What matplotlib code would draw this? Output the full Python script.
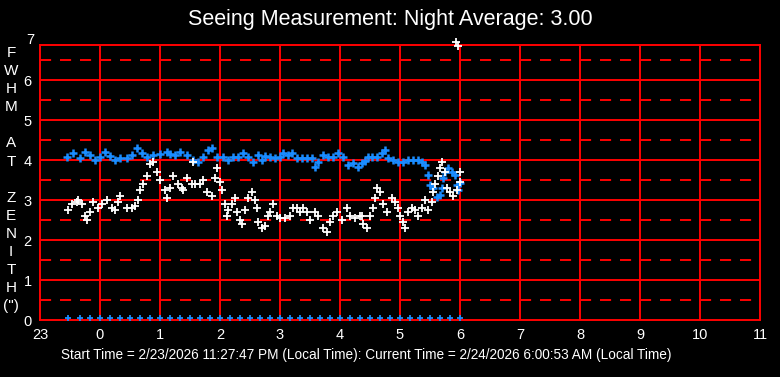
import matplotlib
matplotlib.use("Agg")
import matplotlib.pyplot as plt

plt.rcParams['font.family'] = ['Liberation Sans', 'DejaVu Sans']
plt.rcParams['lines.scale_dashes'] = False

# time is minutes after 23:00 local time
white_min = [28, 32, 37, 38, 42, 45, 47, 50, 53, 58, 62, 67, 72, 75, 78, 80, 87, 92, 95, 98,
             100, 103, 107, 110, 113, 117, 120, 125, 127, 130, 133, 138, 142, 143, 147, 152,
             153, 155, 160, 163, 167, 172, 175, 177, 180, 182, 185, 187, 188, 192, 195, 197,
             200, 202, 205, 208, 212, 215, 217, 218, 222, 225, 228, 230, 233, 237, 240, 245,
             250, 253, 257, 260, 263, 267, 270, 275, 278, 283, 287, 290, 293, 297, 302, 307,
             310, 315, 320, 322, 323, 327, 330, 333, 335, 337, 340, 343, 347, 352, 355, 358,
             360, 363, 365, 368, 372, 375, 378, 382, 385, 388, 392, 393, 395, 398, 400, 402,
             405, 407, 410, 413, 417, 420, 420, 416, 418]
white_val = [2.75, 2.9, 2.95, 3.0, 2.9, 2.6, 2.5, 2.7, 2.95, 2.8, 2.9, 3.0, 2.8, 2.75, 2.95, 3.1,
             2.8, 2.8, 2.85, 3.0, 3.25, 3.4, 3.6, 3.9, 3.95, 3.7, 3.5, 3.25, 3.05, 3.3, 3.6, 3.4,
             3.3, 3.25, 3.55, 3.4, 3.95, 3.4, 3.4, 3.5, 3.2, 3.1, 3.55, 3.8, 3.45, 3.25, 2.9,
             2.6, 2.75, 2.9, 3.05, 2.7, 2.5, 2.4, 2.75, 3.05, 3.2, 3.0, 2.8, 2.45, 2.3, 2.35,
             2.6, 2.7, 2.9, 2.6, 2.55, 2.55, 2.6, 2.8, 2.8, 2.7, 2.8, 2.7, 2.5, 2.7, 2.6, 2.3,
             2.2, 2.45, 2.6, 2.7, 2.5, 2.8, 2.6, 2.55, 2.6, 2.6, 2.4, 2.3, 2.6, 2.8, 3.05, 3.3,
             3.2, 2.9, 2.7, 3.05, 2.95, 2.8, 2.6, 2.45, 2.3, 2.7, 2.8, 2.75, 2.6, 2.8, 3.0,
             2.75, 2.95, 3.2, 3.4, 3.6, 3.8, 3.95, 3.7, 3.3, 3.2, 3.1, 3.25, 3.7, 3.45, 6.95, 6.85]

blue_min = [27, 33, 40, 45, 50, 55, 60, 65, 70, 75, 80, 87, 92, 97, 102, 107, 113, 120, 127,
            130, 135, 140, 147, 153, 158, 163, 168, 172, 177, 183, 188, 193, 198, 203, 208,
            213, 218, 222, 225, 230, 235, 240, 243, 248, 252, 257, 262, 267, 272, 275, 278,
            283, 288, 293, 298, 303, 308, 313, 318, 322, 325, 328, 332, 337, 342, 345, 348,
            353, 358, 363, 368, 373, 378, 382, 385, 388, 390, 393, 397, 400, 402, 403, 405,
            408, 412, 415, 417, 418, 420]
blue_val = [4.08, 4.17, 4.05, 4.2, 4.12, 4.0, 4.07, 4.2, 4.1, 4.0, 4.05, 4.05, 4.12, 4.3, 4.17,
            4.08, 4.12, 4.15, 4.2, 4.15, 4.12, 4.2, 4.12, 4.0, 3.95, 4.07, 4.25, 4.3, 4.07,
            4.07, 4.0, 4.07, 4.07, 4.17, 4.07, 3.95, 4.12, 4.0, 4.1, 4.07, 4.05, 4.07, 4.17,
            4.12, 4.17, 4.05, 4.05, 4.05, 4.05, 3.83, 3.95, 4.12, 4.07, 4.07, 4.17, 4.07, 3.88,
            3.92, 3.83, 3.92, 3.98, 4.07, 4.07, 4.07, 4.17, 4.25, 4.05, 4.0, 3.95, 3.95, 4.0,
            4.0, 4.0, 3.95, 3.88, 3.62, 3.38, 3.3, 3.08, 3.12, 3.3, 3.55, 3.7, 3.8, 3.7, 3.62,
            3.38, 3.25, 3.42]

base_min = [28, 40, 50, 60, 70, 80, 90, 100, 110, 120, 130, 140, 150, 160, 170, 180, 190, 200,
            210, 220, 230, 240, 250, 260, 270, 280, 290, 300, 310, 320, 330, 340, 350, 360,
            370, 380, 390, 400, 410, 420]
base_level = 0.05

hour_labels = ['23', '0', '1', '2', '3', '4', '5', '6', '7', '8', '9', '10', '11']
ylabel_chars = ['F', 'W', 'H', 'M', '', 'A', 'T', '', 'Z', 'E', 'N', 'I', 'T', 'H', '(")']

title = 'Seeing Measurement: Night Average: 3.00'
footer = ('Start Time = 2/23/2026 11:27:47 PM (Local Time): '
          'Current Time = 2/24/2026 6:00:53 AM (Local Time)')

red = '#ff0000'
blue = '#1a8cff'

W, H = 780, 377
fig = plt.figure(figsize=(W / 100, H / 100), dpi=100, facecolor='black')
ax = fig.add_axes([40 / W, 57 / H, 720 / W, 275 / H], facecolor='black')
ax.set_xlim(0, 12)
ax.set_ylim(0, 6.875)

# grid
for k in range(1, 7):
    ax.axhline(k - 0.5, color=red, lw=1.4, dashes=(8, 6.4), zorder=1)
    ax.axhline(k, color=red, lw=1.4, zorder=1)
ax.axhline(6.5, color=red, lw=1.4, dashes=(8, 6.4), zorder=1)
for k in range(1, 12):
    ax.axvline(k, color=red, lw=1.4, zorder=1)
for s in ax.spines.values():
    s.set_color(red)
    s.set_linewidth(1.4)

ax.plot([m / 60 for m in blue_min], blue_val, '+', color=blue, ms=6, mew=1.8,
        clip_on=False, zorder=3)
ax.plot([m / 60 for m in white_min], white_val, '+', color='white', ms=6, mew=1.3,
        clip_on=False, zorder=4)
ax.plot([m / 60 for m in base_min], [base_level] * len(base_min), '+', color=blue, ms=5,
        mew=1.3, clip_on=False, zorder=3)

ax.set_xticks(range(13))
ax.set_xticklabels(hour_labels)
ax.set_yticks(range(7))
ax.tick_params(length=0, colors='white', labelsize=10.5)
ax.tick_params(axis='x', pad=6)
ax.tick_params(axis='y', pad=6)
ax.text(-0.1, 7, '7', color='white', fontsize=10.5, ha='right', va='center',
        transform=ax.transData, clip_on=False)

fig.text(0.5, 1 - 20 / H, title, color='white', fontsize=15.5, ha='center', va='center')
fig.text(366 / W, 1 - 355 / H, footer, color='white', fontsize=9.8, ha='center', va='center')
for i, ch in enumerate(ylabel_chars):
    fig.text(11 / W, 1 - (53 + 18.1 * i) / H, ch, color='white', fontsize=11,
             ha='center', va='center')

fig.savefig('out.png', dpi=100, facecolor='black')
